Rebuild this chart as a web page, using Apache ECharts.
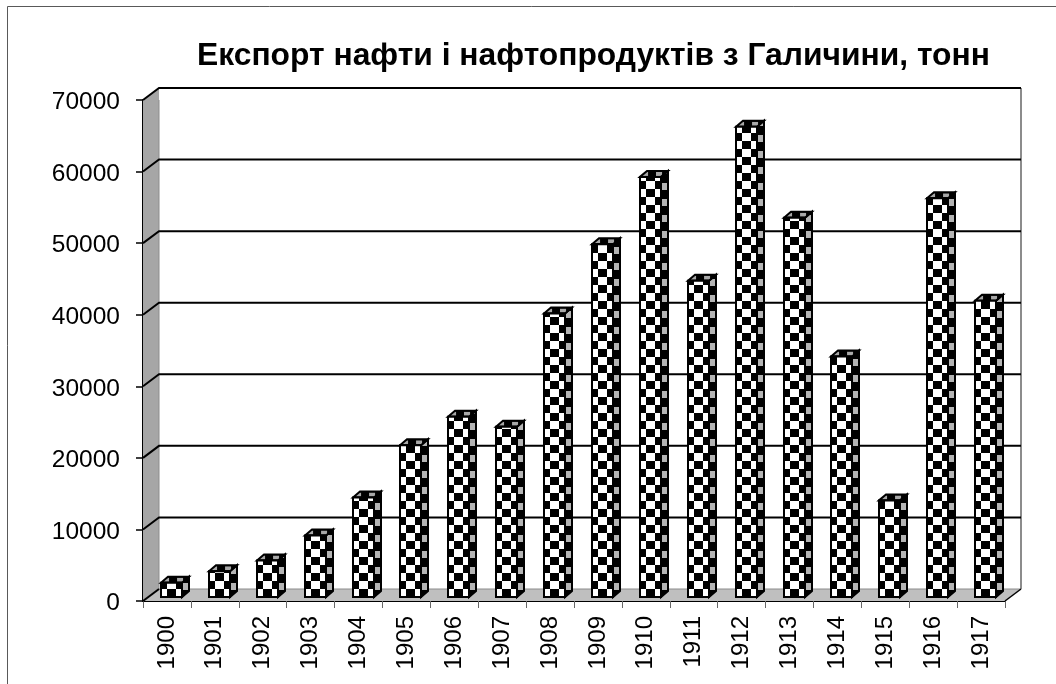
<!DOCTYPE html>
<html>
<head>
<meta charset="utf-8">
<title>Експорт нафти</title>
<style>
  html, body { margin: 0; padding: 0; background: #fff; }
  #chart { width: 1056px; height: 684px; }
</style>
<script src="https://cdn.jsdelivr.net/npm/echarts@6/dist/echarts.min.js"></script>
</head>
<body>
<div id="chart"></div>
<script>
var years = ['1900', '1901', '1902', '1903', '1904', '1905', '1906', '1907', '1908', '1909', '1910', '1911', '1912', '1913', '1914', '1915', '1916', '1917']
var tonnes = [2000, 3600, 5100, 8600, 13900, 21200, 25200, 23800, 39600, 49300, 58700, 44200, 65700, 53000, 33600, 13500, 55700, 41400]
var yTicks = [0, 10000, 20000, 30000, 40000, 50000, 60000, 70000]

// depth of the fake 3d box and of one bar
var depthX = 16
var depthY = 12
var barW = 21
var barDX = 7
var barDY = 6

function makePattern (w, h, draw) {
  var c = document.createElement('canvas')
  c.width = w
  c.height = h
  draw(c.getContext('2d'))
  return c
}

// three columns, the middle one wider, so it fills one bar face exactly
var frontImg = makePattern(21, 16, function (g) {
  g.fillStyle = '#fff'
  g.fillRect(0, 0, 21, 16)
  g.fillStyle = '#000'
  g.fillRect(0, 0, 6, 8)
  g.fillRect(15, 0, 6, 8)
  g.fillRect(6, 8, 9, 8)
})
var sideImg = makePattern(7, 16, function (g) {
  g.fillStyle = '#000'
  g.fillRect(0, 0, 7, 16)
  g.fillStyle = '#b4b4b4'
  g.fillRect(1, 2, 5, 7)
})
var topImg = makePattern(14, 6, function (g) {
  g.fillStyle = '#000'
  g.fillRect(0, 0, 14, 6)
  g.fillStyle = '#a8a8a8'
  g.fillRect(2, 1, 6, 4)
})

function renderWalls (params, api) {
  var cs = params.coordSys
  var x0 = cs.x
  var x1 = cs.x + cs.width
  var top = api.coord([0, api.value(1)])[1]
  var bottom = api.coord([0, api.value(0)])[1]
  return {
    type: 'group',
    children: [
      {
        type: 'polygon',
        shape: { points: [[x0, top], [x0 + depthX, top - depthY], [x0 + depthX, bottom - depthY], [x0, bottom]] },
        style: { fill: '#a6a6a6' }
      },
      {
        type: 'polygon',
        shape: { points: [[x0, bottom], [x0 + depthX, bottom - depthY], [x1 + depthX, bottom - depthY], [x1, bottom]] },
        style: { fill: '#bfbfbf' }
      },
      {
        type: 'polyline',
        shape: { points: [[x1 + depthX, top - depthY], [x1 + depthX, bottom - depthY]] },
        style: { fill: null, stroke: '#8c8c8c', lineWidth: 2 }
      },
      {
        type: 'line',
        shape: { x1: x0 + depthX, y1: bottom - depthY, x2: x1 + depthX, y2: bottom - depthY },
        style: { stroke: '#8c8c8c', lineWidth: 1 }
      },
      {
        type: 'line',
        shape: { x1: x1, y1: bottom, x2: x1 + depthX, y2: bottom - depthY },
        style: { stroke: '#000', lineWidth: 1.5 }
      },
      {
        type: 'line',
        shape: { x1: x0 + depthX, y1: top, x2: x0 + depthX, y2: bottom - depthY },
        style: { stroke: '#8c8c8c', lineWidth: 1 }
      }
    ]
  }
}

function renderGridLine (params, api) {
  var cs = params.coordSys
  var y = api.coord([0, api.value(0)])[1]
  var x0 = cs.x
  var pts = [[x0, y], [x0 + depthX, y - depthY]]
  if (api.value(0) > 0) pts.push([cs.x + cs.width + depthX, y - depthY])
  return {
    type: 'polyline',
    shape: { points: pts },
    style: { fill: null, stroke: '#000', lineWidth: 2 }
  }
}

function renderBar (params, api) {
  var p = api.coord([api.value(0), api.value(1)])
  var base = api.coord([api.value(0), 0])
  var l = Math.round(p[0] - 6)
  var r = l + barW
  var t = p[1] - 4
  var b = base[1] - 4
  return {
    type: 'group',
    children: [
      {
        type: 'polygon',
        shape: { points: [[r, t], [r + barDX, t - barDY], [r + barDX, b - barDY], [r, b]] },
        style: { fill: { image: sideImg, repeat: 'repeat', x: r, y: b }, stroke: '#000', lineWidth: 2 }
      },
      {
        type: 'polygon',
        shape: { points: [[l, t], [l + barDX, t - barDY], [r + barDX, t - barDY], [r, t]] },
        style: { fill: { image: topImg, repeat: 'repeat', x: l, y: t }, stroke: '#000', lineWidth: 2 }
      },
      {
        type: 'rect',
        shape: { x: l, y: t, width: barW, height: b - t },
        style: { fill: { image: frontImg, repeat: 'repeat', x: l, y: b }, stroke: '#000', lineWidth: 2 }
      }
    ]
  }
}

var chart = echarts.init(document.getElementById('chart'), null, { renderer: 'canvas' })
var fontName = '"Liberation Sans", Arial, sans-serif'

chart.setOption({
  backgroundColor: '#fff',
  animation: false,
  title: {
    text: 'Експорт нафти і нафтопродуктів з Галичини, тонн',
    left: 192,
    top: 35,
    textStyle: { fontFamily: fontName, fontSize: 31.8, fontWeight: 'bold', color: '#000' }
  },
  // thin frame of the chart area, only top and left are in the picture
  graphic: [
    { type: 'line', shape: { x1: 7.5, y1: 6.5, x2: 1056, y2: 6.5 }, style: { stroke: '#595959', lineWidth: 1 } },
    { type: 'line', shape: { x1: 7.5, y1: 6.5, x2: 7.5, y2: 684 }, style: { stroke: '#595959', lineWidth: 1 } }
  ],
  grid: { left: 143, right: 51, top: 100, bottom: 83 },
  xAxis: {
    type: 'category',
    data: years,
    axisLine: { show: true, lineStyle: { color: '#000', width: 2 } },
    axisTick: { show: true, length: 7, alignWithLabel: false, lineStyle: { color: '#666', width: 1 } },
    axisLabel: { interval: 0, rotate: 90, margin: 15, fontFamily: fontName, fontSize: 24, color: '#000' },
    splitLine: { show: false }
  },
  yAxis: {
    type: 'value',
    min: 0,
    max: 70000,
    interval: 10000,
    axisLine: { show: true, lineStyle: { color: '#000', width: 2 } },
    axisTick: { show: true, length: 7, lineStyle: { color: '#000', width: 1.5 } },
    axisLabel: {
      margin: 23,
      color: '#000',
      formatter: function (v) { return '{n|' + v + '}' },
      rich: {
        n: { fontFamily: fontName, fontSize: 24.5, color: '#000', padding: [5, 0, 0, 0] }
      }
    },
    splitLine: { show: false }
  },
  series: [
    {
      type: 'custom',
      name: 'walls',
      z: 1,
      silent: true,
      renderItem: renderWalls,
      encode: { y: [0, 1] },
      data: [[yTicks[0], yTicks[yTicks.length - 1]]]
    },
    {
      type: 'custom',
      name: 'grid lines',
      z: 2,
      silent: true,
      renderItem: renderGridLine,
      encode: { y: 0 },
      data: yTicks.map(function (t) { return [t] })
    },
    {
      type: 'custom',
      name: 'export',
      z: 3,
      renderItem: renderBar,
      encode: { x: 0, y: 1 },
      data: tonnes.map(function (v, i) { return [i, v] })
    }
  ]
})
</script>
</body>
</html>
